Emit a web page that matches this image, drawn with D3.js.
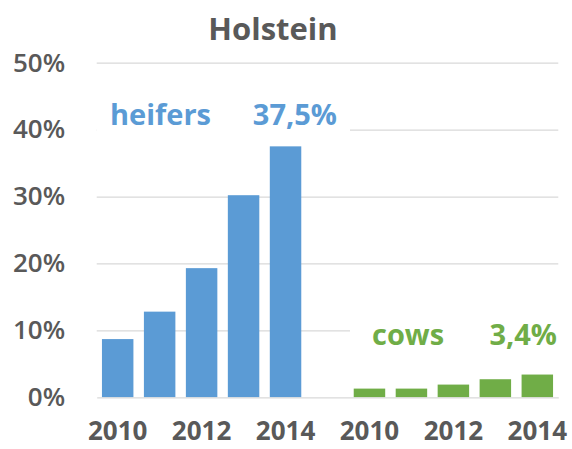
<!DOCTYPE html>
<html>
<head>
<meta charset="utf-8">
<script src="https://cdn.jsdelivr.net/npm/d3@7"></script>
<style>
  html, body { margin: 0; padding: 0; background: #fff; }
  svg { display: block; font-family: "Open Sans", "Liberation Sans", sans-serif; }
</style>
</head>
<body>
<svg id="chart" width="572" height="449"></svg>
<script>
// Share of animals per year, in percent
const years = ["2010", "2011", "2012", "2013", "2014"];
const heifers = [8.7, 12.8, 19.3, 30.2, 37.5];
const cows = [1.3, 1.3, 1.9, 2.7, 3.4];
const groupNames = ["heifers", "cows"];
const yTicks = [0, 10, 20, 30, 40, 50];
const titleText = "Holstein";

const W = 572, H = 449;
const margin = { left: 96.7, right: W - 558.3, top: 62.7, bottom: H - 397.3 };
const svg = d3.select("#chart");

// Band keys: heifer years, one empty slot, then cow years
const keys = [
  ...years.map(y => "heifers-" + y),
  "gap",
  ...years.map(y => "cows-" + y)
];
const x = d3.scaleBand()
  .domain(keys)
  .range([margin.left, W - margin.right])
  .paddingInner(0.25)
  .paddingOuter(0.125);

const y = d3.scaleLinear()
  .domain([0, 50])
  .range([H - margin.bottom, margin.top]);

const gridColor = "#d9d9d9";
const textGray = "#595959";
const blue = "#5b9bd5";
const green = "#70ad47";
const fmtPct = v => d3.format(".1f")(v).replace(".", ",") + "%";

// Horizontal gridlines
svg.append("g")
  .attr("transform", `translate(${margin.left},0)`)
  .call(d3.axisLeft(y).tickValues(yTicks.filter(t => t > 0))
    .tickSize(-(W - margin.left - margin.right)).tickFormat(""))
  .call(g => g.select(".domain").remove())
  .call(g => g.selectAll("line").attr("stroke", gridColor).attr("stroke-width", 1.3));

// Y tick labels
svg.append("g")
  .attr("transform", `translate(${margin.left},0)`)
  .call(d3.axisLeft(y).tickValues(yTicks).tickSize(0).tickPadding(31.5)
    .tickFormat(d => d + "%"))
  .call(g => g.select(".domain").remove())
  .call(g => g.selectAll("text")
    .attr("fill", textGray)
    .attr("font-size", 26)
    .attr("font-weight", 600)
    .attr("font-family", "'Open Sans', sans-serif"));

// Bars
const rows = [
  ...years.map((yr, i) => ({ key: "heifers-" + yr, value: heifers[i], color: blue })),
  ...years.map((yr, i) => ({ key: "cows-" + yr, value: cows[i], color: green }))
];
svg.append("g").selectAll("rect")
  .data(rows)
  .join("rect")
  .attr("x", d => x(d.key))
  .attr("width", x.bandwidth())
  .attr("y", d => y(d.value))
  .attr("height", d => y(0) - y(d.value))
  .attr("fill", d => d.color);

// X axis: baseline and every other year
svg.append("g")
  .attr("transform", `translate(0,${y(0)})`)
  .call(d3.axisBottom(x).tickSize(0)
    .tickFormat(k => {
      if (k === "gap") return "";
      const yr = k.split("-")[1];
      return (+yr % 2 === 0) ? yr : "";
    }))
  .call(g => g.select(".domain").attr("stroke", gridColor).attr("stroke-width", 1.3))
  .call(g => g.selectAll("text")
    .attr("y", 43)
    .attr("dy", 0)
    .attr("fill", textGray)
    .attr("font-size", 26)
    .attr("font-weight", 700)
    .attr("font-family", "'Open Sans', sans-serif"));

// Series labels sitting on white boxes
const lastH = heifers[heifers.length - 1];
const lastC = cows[cows.length - 1];

svg.append("rect")
  .attr("x", margin.left).attr("y", y(45) + 3)
  .attr("width", 350 - margin.left).attr("height", 40)
  .attr("fill", "#fff");
svg.append("text")
  .attr("x", 110).attr("y", 125)
  .attr("font-size", 29).attr("font-weight", 700).attr("fill", blue)
  .text(groupNames[0]);
svg.append("text")
  .attr("x", 337).attr("y", 125).attr("text-anchor", "end")
  .attr("font-size", 29).attr("font-weight", 700).attr("fill", blue)
  .text(fmtPct(lastH));

svg.append("rect")
  .attr("x", 350).attr("y", 318)
  .attr("width", 215).attr("height", 34)
  .attr("fill", "#fff");
svg.append("text")
  .attr("x", 372).attr("y", 345)
  .attr("font-size", 29).attr("font-weight", 700).attr("fill", green)
  .text(groupNames[1]);
svg.append("text")
  .attr("x", 557).attr("y", 345).attr("text-anchor", "end")
  .attr("font-size", 29).attr("font-weight", 700).attr("fill", green)
  .text(fmtPct(lastC));

// Title
svg.append("text")
  .attr("x", 273).attr("y", 40).attr("text-anchor", "middle")
  .attr("font-size", 31).attr("font-weight", 700).attr("fill", textGray)
  .text(titleText);
</script>
</body>
</html>
